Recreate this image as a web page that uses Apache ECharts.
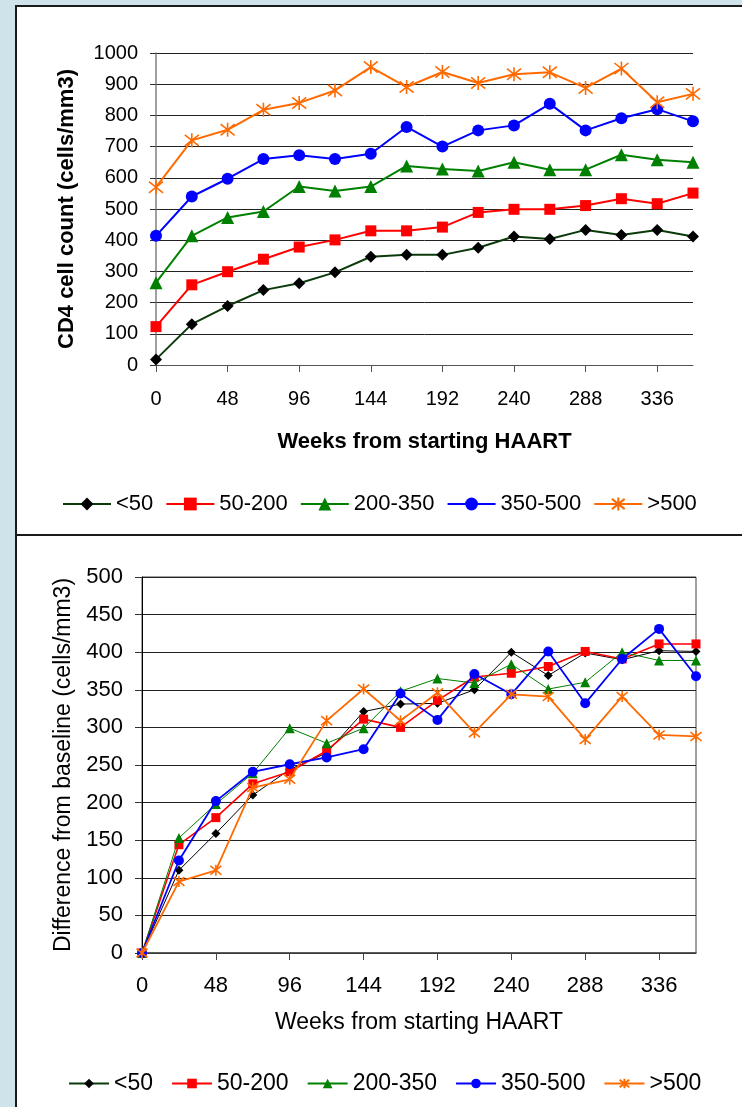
<!DOCTYPE html>
<html><head><meta charset="utf-8">
<script src="https://cdn.jsdelivr.net/npm/echarts@6/dist/echarts.min.js"></script>
<style>
html,body{margin:0;padding:0;background:#cfe3ea;width:742px;height:1107px;overflow:hidden;}
.panel{position:absolute;background:#fff;border:2px solid #1a1a1a;}
#chart{position:absolute;left:0;top:0;width:742px;height:1107px;}
</style></head><body>
<div class="panel" style="left:15px;top:5px;width:800px;height:527px;"></div>
<div class="panel" style="left:15px;top:534px;width:800px;height:700px;"></div>
<div id="chart"></div>
<script>
// ---- data ----
const weeks = ['0','24','48','72','96','120','144','168','192','216','240','264','288','312','336','360'];
const groupNames = ['<50','50-200','200-350','350-500','>500'];

// Top: CD4 cell count (cells/mm3)
const cd4_lt50    = [18,131,189,240,262,297,347,353,353,376,412,404,433,417,433,412];
const cd4_50_200  = [123,257,299,339,378,401,430,430,442,489,499,499,511,533,517,551];
const cd4_200_350 = [264,414,473,492,572,558,572,638,628,622,650,626,626,674,658,650];
const cd4_350_500 = [414,540,597,660,672,660,677,763,700,752,768,837,752,791,820,781];
const cd4_gt500   = [570,720,754,818,840,880,955,891,939,904,932,938,888,950,842,869];

// Bottom: difference from baseline (cells/mm3)
const diff_lt50    = [0,110,159,210,244,266,321,331,332,350,400,369,399,390,402,401];
const diff_50_200  = [0,144,180,225,241,269,311,300,336,367,372,381,401,391,411,411];
const diff_200_350 = [0,153,198,239,299,279,299,348,365,359,384,351,360,400,389,389];
const diff_350_500 = [0,123,202,241,251,260,271,345,310,371,344,401,332,391,431,368];
const diff_gt500   = [0,95,110,220,231,309,351,309,346,293,344,341,284,341,290,288];

// ---- styling ----
const FONT = 'Liberation Sans, Arial, sans-serif';
const STAR = 'path://M1,1L9,9M9,1L1,9M5,0L5,10';
const styles = [
  {line:'#0a3a0a', mark:'#000000', symbol:'diamond'},
  {line:'#ff0000', mark:'#ff0000', symbol:'rect'},
  {line:'#008000', mark:'#008000', symbol:'triangle'},
  {line:'#0000ff', mark:'#0000ff', symbol:'circle'},
  {line:'#ff6a00', mark:'#ff6a00', symbol:'star'}
];
const topSizes = [12,11,13,12,14];
const botSizes = [9,9,10,10,11];
const topWidths = [2,2,2,2,2];
const botWidths = [1,1.6,1,1.8,1.8];
const botLineColors = ['#000000','#ff0000','#008000','#0000ff','#ff6a00'];

function mkSeries(name, data, i, gridIdx, size, width, lineColor) {
  const s = styles[i];
  const isStar = s.symbol === 'star';
  return {
    name: name, type: 'line', data: data,
    xAxisIndex: gridIdx, yAxisIndex: gridIdx,
    symbol: isStar ? STAR : s.symbol,
    symbolSize: size,
    showAllSymbol: true,
    lineStyle: {color: lineColor, width: width},
    itemStyle: isStar ? {color: s.mark, borderColor: s.mark, borderWidth: 1.6}
                      : {color: s.mark, borderWidth: 0},
    emphasis: {disabled: true},
    z: 2 + i
  };
}

const topData = [cd4_lt50, cd4_50_200, cd4_200_350, cd4_350_500, cd4_gt500];
const botData = [diff_lt50, diff_50_200, diff_200_350, diff_350_500, diff_gt500];

const series = [];
topData.forEach((d,i)=>series.push(mkSeries(groupNames[i], d, i, 0, topSizes[i], topWidths[i], styles[i].line)));
botData.forEach((d,i)=>series.push(mkSeries(groupNames[i], d, i, 1, botSizes[i], botWidths[i], botLineColors[i])));

const plain = v => String(v);

const chart = echarts.init(document.getElementById('chart'), null, {renderer:'canvas'});
chart.setOption({
  animation: false,
  backgroundColor: 'transparent',
  textStyle: {fontFamily: FONT, color:'#000'},
  grid: [
    {left:156, top:53, width:537, height:312, containLabel:false},
    {left:142, top:577, width:554, height:376, show:true, borderColor:'#444', borderWidth:1, backgroundColor:'transparent', containLabel:false}
  ],
  legend: [
    {
      data: groupNames.map(n=>({name:n})),
      left: 57, top: 488, itemWidth: 48, itemHeight: 16, itemGap: 12,
      textStyle: {fontSize: 22, color:'#000', fontFamily: FONT},
      selectedMode: false
    },
    {
      data: groupNames.map(n=>({name:n})),
      left: 63, top: 1067, itemWidth: 40, itemHeight: 12, itemGap: 18,
      textStyle: {fontSize: 23, color:'#000', fontFamily: FONT},
      selectedMode: false
    }
  ],
  xAxis: [
    {
      gridIndex: 0, type: 'category', data: weeks, boundaryGap: false,
      axisLine: {lineStyle: {color:'#555', width:1}},
      axisTick: {show:true, interval: 1, length: 7, lineStyle:{color:'#555'}},
      axisLabel: {interval: 1, fontSize: 20, color:'#000', margin: 24, fontFamily: FONT},
      name: 'Weeks from starting HAART', nameLocation: 'middle', nameGap: 66,
      nameTextStyle: {fontSize: 22, fontWeight: 'bold', color:'#000', fontFamily: FONT},
      splitLine: {show:false}
    },
    {
      gridIndex: 1, type: 'category', data: weeks, boundaryGap: false,
      axisLine: {lineStyle: {color:'#444', width:1.5}},
      axisTick: {show:true, interval: 1, length: 7, lineStyle:{color:'#444'}},
      axisLabel: {interval: 1, fontSize: 22, color:'#000', margin: 22, fontFamily: FONT},
      name: 'Weeks from starting HAART', nameLocation: 'middle', nameGap: 58,
      nameTextStyle: {fontSize: 23, color:'#000', fontFamily: FONT},
      splitLine: {show:false}
    }
  ],
  yAxis: [
    {
      gridIndex: 0, type: 'value', min: 0, max: 1000, interval: 100,
      axisLine: {show:true, lineStyle: {color:'#808080', width:1.5}},
      axisTick: {show:true, length: 6, lineStyle:{color:'#333'}},
      axisLabel: {fontSize: 20, color:'#000', margin: 18, fontFamily: FONT, formatter: plain},
      splitLine: {show:true, lineStyle:{color:'#222', width:1}},
      name: 'CD4 cell count (cells/mm3)', nameLocation: 'middle', nameGap: 78,
      nameTextStyle: {fontSize: 22, fontWeight: 'bold', color:'#000', fontFamily: FONT}
    },
    {
      gridIndex: 1, type: 'value', min: 0, max: 500, interval: 50,
      axisLine: {show:true, lineStyle: {color:'#000', width:1}},
      axisTick: {show:true, length: 7, lineStyle:{color:'#333'}},
      axisLabel: {fontSize: 22, color:'#000', margin: 19, fontFamily: FONT, formatter: plain},
      splitLine: {show:true, lineStyle:{color:'#222', width:1}},
      name: 'Difference from baseline (cells/mm3)', nameLocation: 'middle', nameGap: 66,
      nameTextStyle: {fontSize: 23, color:'#000', fontFamily: FONT}
    }
  ],
  series: series
});
</script>
</body></html>
